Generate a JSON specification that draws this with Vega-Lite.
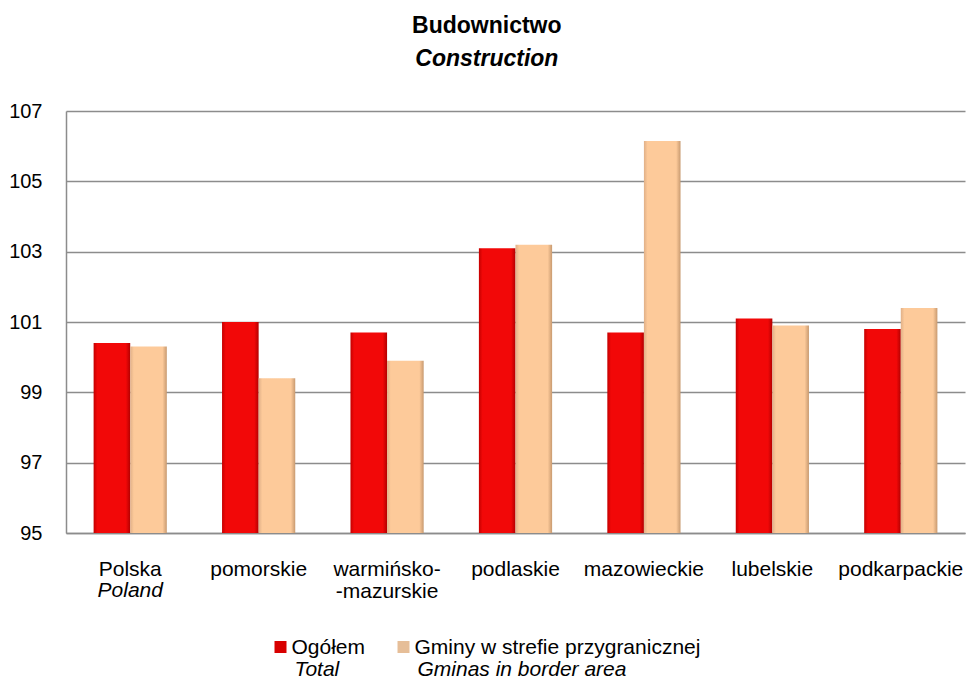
{
  "$schema": "https://vega.github.io/schema/vega-lite/v6.json",
  "background": "white",
  "padding": {"left": 8, "top": 15, "right": 5, "bottom": 0},
  "config": {"font": "Liberation Sans", "view": {"stroke": null}},
  "title": {
    "text": "Budownictwo",
    "subtitle": "Construction",
    "font": "Liberation Sans",
    "subtitleFont": "Liberation Sans",
    "fontSize": 23,
    "fontWeight": "bold",
    "color": "black",
    "subtitleFontSize": 23,
    "subtitleFontWeight": "bold",
    "subtitleFontStyle": "italic",
    "subtitleColor": "black",
    "subtitlePadding": 10,
    "anchor": "middle",
    "offset": 30
  },
  "spacing": 26,
  "datasets": {
    "bars": [
      {"region": "Polska", "series": "Ogółem", "value": 100.4},
      {"region": "Polska", "series": "Gminy w strefie przygranicznej", "value": 100.3},
      {"region": "pomorskie", "series": "Ogółem", "value": 101.0},
      {"region": "pomorskie", "series": "Gminy w strefie przygranicznej", "value": 99.4},
      {"region": "warmińsko-mazurskie", "series": "Ogółem", "value": 100.7},
      {"region": "warmińsko-mazurskie", "series": "Gminy w strefie przygranicznej", "value": 99.9},
      {"region": "podlaskie", "series": "Ogółem", "value": 103.1},
      {"region": "podlaskie", "series": "Gminy w strefie przygranicznej", "value": 103.2},
      {"region": "mazowieckie", "series": "Ogółem", "value": 100.7},
      {"region": "mazowieckie", "series": "Gminy w strefie przygranicznej", "value": 106.15},
      {"region": "lubelskie", "series": "Ogółem", "value": 101.1},
      {"region": "lubelskie", "series": "Gminy w strefie przygranicznej", "value": 100.9},
      {"region": "podkarpackie", "series": "Ogółem", "value": 100.8},
      {"region": "podkarpackie", "series": "Gminy w strefie przygranicznej", "value": 101.4}
    ],
    "sublabels": [
      {"region": "Polska", "en": "Poland"}
    ],
    "legend": [
      {"series": "Ogółem", "en": "Total"},
      {"series": "Gminy w strefie przygranicznej", "en": "Gminas in border area"}
    ]
  },
  "vconcat": [
    {
      "width": 899,
      "height": 422,
      "data": {"name": "bars"},
      "encoding": {
        "x": {
          "field": "region",
          "type": "nominal",
          "sort": null,
          "scale": {
            "domain": ["Polska", "pomorskie", "warmińsko-mazurskie", "podlaskie", "mazowieckie", "lubelskie", "podkarpackie"],
            "paddingInner": 0.43,
            "paddingOuter": 0.215
          },
          "axis": {
            "title": null,
            "ticks": false,
            "labelAngle": 0,
            "labelFont": "Liberation Sans",
            "labelFontSize": 21,
            "labelColor": "black",
            "labelPadding": 25,
            "labelLineHeight": 22,
            "labelOverlap": false,
            "labelLimit": 0,
            "domainColor": "#8c8c8c",
            "domainWidth": 1.5,
            "labelExpr": "datum.value === 'warmińsko-mazurskie' ? ['warmińsko-', '-mazurskie'] : datum.label"
          }
        }
      },
      "layer": [
        {
          "transform": [{"filter": "datum.series === 'Ogółem'"}],
          "mark": {
            "type": "bar",
            "fill": {
              "gradient": "linear", "x1": 0, "x2": 1, "y1": 0, "y2": 0,
              "stops": [
                {"offset": 0, "color": "#c40000"},
                {"offset": 0.1, "color": "#f20808"},
                {"offset": 0.88, "color": "#f20808"},
                {"offset": 1, "color": "#b30000"}
              ]
            }
          },
          "encoding": {
            "xOffset": {"field": "series", "type": "nominal", "scale": {"domain": ["Ogółem", "Gminy w strefie przygranicznej"], "paddingInner": 0, "paddingOuter": 0}},
            "y": {
              "field": "value",
              "type": "quantitative",
              "scale": {"domain": [95, 107], "nice": false, "zero": false},
              "axis": {
                "title": null,
                "values": [95, 97, 99, 101, 103, 105, 107],
                "ticks": false,
                "grid": true,
                "gridColor": "#8c8c8c",
                "gridWidth": 1.5,
                "domainColor": "#8c8c8c",
                "domainWidth": 1.5,
                "labelFont": "Liberation Sans",
                "labelFontSize": 20,
                "labelColor": "black",
                "labelPadding": 24,
                "labelFlush": false
              }
            },
            "y2": {"datum": 95}
          }
        },
        {
          "transform": [{"filter": "datum.series !== 'Ogółem'"}],
          "mark": {
            "type": "bar",
            "fill": {
              "gradient": "linear", "x1": 0, "x2": 1, "y1": 0, "y2": 0,
              "stops": [
                {"offset": 0, "color": "#e0b088"},
                {"offset": 0.1, "color": "#fdca9a"},
                {"offset": 0.88, "color": "#fdca9a"},
                {"offset": 1, "color": "#c89a70"}
              ]
            }
          },
          "encoding": {
            "xOffset": {"field": "series", "type": "nominal", "scale": {"domain": ["Ogółem", "Gminy w strefie przygranicznej"], "paddingInner": 0, "paddingOuter": 0}},
            "y": {"field": "value", "type": "quantitative"},
            "y2": {"datum": 95}
          }
        },
        {
          "data": {"name": "sublabels"},
          "mark": {"type": "text", "font": "Liberation Sans", "fontSize": 21, "fontStyle": "italic", "color": "black", "baseline": "alphabetic", "dy": 64},
          "encoding": {
            "x": {"field": "region", "type": "nominal"},
            "y": {"datum": 95},
            "text": {"field": "en"}
          }
        }
      ]
    },
    {
      "width": 899,
      "height": 40,
      "data": {"name": "legend"},
      "encoding": {
        "x": {
          "field": "series",
          "type": "nominal",
          "sort": null,
          "scale": {"type": "point", "padding": 0, "domain": ["Ogółem", "Gminy w strefie przygranicznej"], "range": [214.5, 337.5]},
          "axis": null
        }
      },
      "layer": [
        {
          "mark": {"type": "square", "size": 144, "filled": true, "opacity": 1},
          "encoding": {
            "color": {"field": "series", "type": "nominal", "scale": {"domain": ["Ogółem", "Gminy w strefie przygranicznej"], "range": ["#d80000", "#e6be98"]}, "legend": null}
          }
        },
        {
          "mark": {"type": "text", "align": "left", "baseline": "alphabetic", "dx": 11, "dy": 7, "font": "Liberation Sans", "fontSize": 21, "color": "black"},
          "encoding": {"text": {"field": "series"}}
        },
        {
          "mark": {"type": "text", "align": "left", "baseline": "alphabetic", "dx": 14, "dy": 29, "font": "Liberation Sans", "fontSize": 21, "fontStyle": "italic", "color": "black"},
          "encoding": {"text": {"field": "en"}}
        }
      ]
    }
  ]
}
